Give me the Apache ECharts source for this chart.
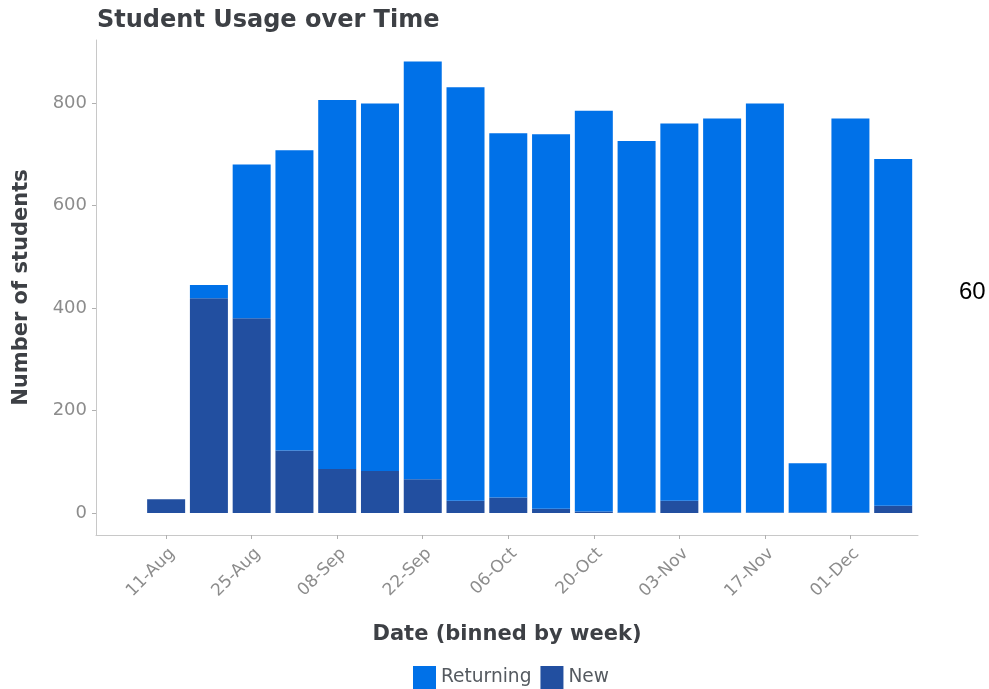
<!DOCTYPE html>
<html>
<head>
<meta charset="utf-8">
<script src="https://cdn.jsdelivr.net/npm/echarts@6/dist/echarts.min.js"></script>
<style>html,body{margin:0;padding:0;background:#fff;}#chart{width:989px;height:689px;}</style>
</head>
<body>
<div id="chart"></div>
<script>
// Week labels (binned by week)
const weeks = ['11-Aug','18-Aug','25-Aug','01-Sep','08-Sep','15-Sep','22-Sep','29-Sep','06-Oct','13-Oct','20-Oct','27-Oct','03-Nov','10-Nov','17-Nov','24-Nov','01-Dec','08-Dec'];
const newStudents = [27, 419, 380, 122, 86, 82, 66, 24, 30, 8, 3, 1, 24, 1, 1, 1, 1, 14];
const totalStudents = [27, 445, 680, 708, 806, 799, 881, 831, 741, 739, 785, 726, 760, 770, 799, 97, 770, 691];
const yTicks = [0, 200, 400, 600, 800];
const xTickIdx = [0, 2, 4, 6, 8, 10, 12, 14, 16];

const returning = totalStudents.map((t, i) => t - newStudents[i]);
const font = 'DejaVu Sans';
const Y_MIN = -43, Y_MAX = 923;
const X_MIN = -1.64, X_MAX = 17.58;

// bar grid spans exactly the category band range inside the axis grid
const gridL = 96, gridR = 71, plotW = 989 - gridL - gridR;
const pxPerUnit = plotW / (X_MAX - X_MIN);
const barL = gridL + (-0.5 - X_MIN) * pxPerUnit;
const barR = 989 - (gridL + (17.5 - X_MIN) * pxPerUnit);

const chart = echarts.init(document.getElementById('chart'));
chart.setOption({
  backgroundColor: '#ffffff',
  animation: false,
  title: {
    text: 'Student Usage over Time',
    left: 92, top: 4,
    textStyle: { fontFamily: font, fontSize: 24, fontWeight: 'bold', color: '#3d4045' }
  },
  grid: [
    { left: gridL, right: gridR, top: 40, bottom: 154 },
    { left: barL, right: barR, top: 40, bottom: 154 }
  ],
  xAxis: [
    {
      gridIndex: 0,
      type: 'value',
      min: X_MIN, max: X_MAX,
      name: 'Date (binned by week)',
      nameLocation: 'middle',
      nameGap: 89,
      nameTextStyle: { fontFamily: font, fontSize: 21, fontWeight: 'bold', color: '#3d4045' },
      axisLine: { show: true, onZero: false, lineStyle: { color: '#c8c8c8', width: 1 } },
      axisTick: { show: true, customValues: xTickIdx, length: 4, lineStyle: { color: '#b0b0b0' } },
      axisLabel: {
        customValues: xTickIdx,
        formatter: v => weeks[Math.round(v)] || '',
        rotate: 45, margin: 10,
        verticalAlign: 'top',
        fontFamily: font, fontSize: 17, color: '#8c8c8c'
      },
      splitLine: { show: false }
    },
    {
      gridIndex: 1,
      type: 'category',
      data: weeks,
      show: false
    }
  ],
  yAxis: [
    {
      gridIndex: 0,
      type: 'value',
      min: Y_MIN, max: Y_MAX,
      name: 'Number of students',
      nameLocation: 'middle',
      nameGap: 64,
      nameTextStyle: { fontFamily: font, fontSize: 21, fontWeight: 'bold', color: '#3d4045' },
      axisLine: { show: true, onZero: false, lineStyle: { color: '#c8c8c8', width: 1 } },
      axisTick: { show: true, customValues: yTicks, length: 4, lineStyle: { color: '#b0b0b0' } },
      axisLabel: { customValues: yTicks, margin: 9, fontFamily: font, fontSize: 18, color: '#8c8c8c' },
      splitLine: { show: false }
    },
    {
      gridIndex: 1,
      type: 'value',
      min: Y_MIN, max: Y_MAX,
      show: false
    }
  ],
  legend: {
    top: 661,
    left: 408,
    itemWidth: 23, itemHeight: 23, itemGap: 9,
    icon: 'rect',
    data: ['Returning', 'New'],
    textStyle: { fontFamily: font, fontSize: 18.6, color: '#555a60' }
  },
  series: [
    {
      name: 'New', type: 'bar', stack: 'total',
      xAxisIndex: 1, yAxisIndex: 1,
      barWidth: 38,
      itemStyle: { color: '#224fa0' },
      data: newStudents
    },
    {
      name: 'Returning', type: 'bar', stack: 'total',
      xAxisIndex: 1, yAxisIndex: 1,
      barWidth: 38,
      itemStyle: { color: '#0071e8' },
      data: returning
    }
  ],
  graphic: [
    { type: 'text', left: 959, top: 280, style: { text: '60', fontFamily: 'Liberation Sans', fontSize: 24, fill: '#000' } }
  ]
});
</script>
</body>
</html>
